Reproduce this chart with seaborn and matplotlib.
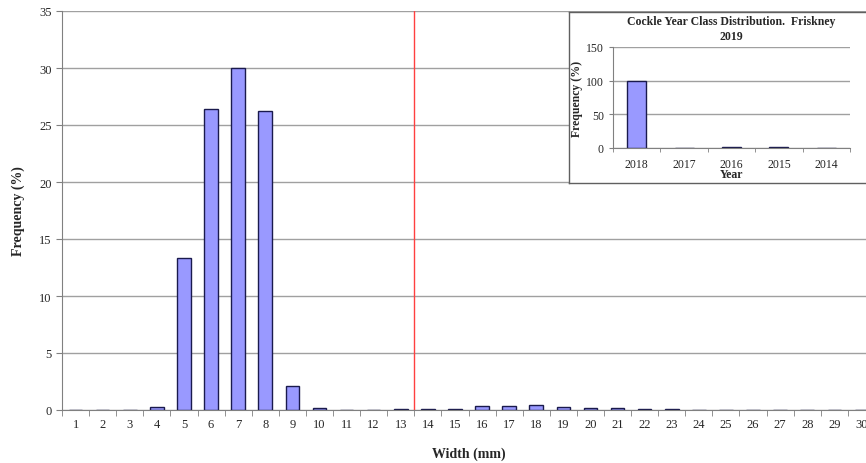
import numpy as np
import matplotlib
matplotlib.use('Agg')
import matplotlib.pyplot as plt
import seaborn as sns

sns.set_style("white")
plt.rcParams['font.family'] = ['Liberation Serif', 'DejaVu Serif']

# main histogram: shell width classes (mm) and frequency (%)
widths = [str(w) for w in range(1, 31)]
freq = [0, 0, 0, 0.3, 13.3, 26.4, 30.0, 26.2, 2.1, 0.15,
        0, 0, 0.1, 0.1, 0.1, 0.35, 0.35, 0.45, 0.3, 0.15,
        0.2, 0.1, 0.1, 0, 0, 0, 0, 0, 0, 0]

# inset: year class distribution
years = ['2018', '2017', '2016', '2015', '2014']
year_freq = [99.5, 0, 1.0, 1.0, 0]

bar_col = '#9999ff'
edge_col = '#1a1a4d'
grid_col = '#a0a0a0'

fig = plt.figure(figsize=(8.66, 4.64), dpi=100)
ax = fig.add_axes([62/866, 1-411/464, 813/866, (411-12)/464])

sns.barplot(x=widths, y=freq, order=widths, color=bar_col, width=0.5,
            edgecolor=edge_col, linewidth=1.0, saturation=1, ax=ax)
ax.set_xlim(-0.5, 29.5)
ax.set_ylim(0, 35)
ax.set_yticks(np.arange(0, 36, 5))
ax.yaxis.grid(True, color=grid_col, linewidth=1)
ax.set_axisbelow(True)
for s in ['top', 'right']:
    ax.spines[s].set_visible(False)
for s in ['left', 'bottom']:
    ax.spines[s].set_color('#808080')
ax.axvline(12.5, color='#ff4040', linewidth=1)
ax.tick_params(axis='x', length=0, labelsize=9, pad=6)
ax.tick_params(axis='y', length=4, labelsize=9, color='#808080', left=True)
ax.set_xticks(np.arange(-0.5, 29.5, 1), minor=True)
ax.tick_params(axis='x', which='minor', length=4, color='#808080', bottom=True)
ax.set_xlabel('Width (mm)', fontsize=10, fontweight='bold', labelpad=12)
ax.set_ylabel('Frequency (%)', fontsize=10, fontweight='bold', labelpad=10)

# inset frame
box = fig.add_axes([569/866, 1-184/464, 310/866, (184-13)/464])
box.set_xticks([])
box.set_yticks([])
box.set_facecolor('white')
for s in box.spines.values():
    s.set_color('#606060')
    s.set_linewidth(1)

ins = fig.add_axes([613/866, 1-149/464, (850-613)/866, (149-48)/464])
sns.barplot(x=years, y=year_freq, order=years, color=bar_col, width=0.4,
            edgecolor=edge_col, linewidth=1.0, saturation=1, ax=ins)
ins.set_xlim(-0.5, 4.5)
ins.set_ylim(0, 150)
ins.set_yticks([0, 50, 100, 150])
ins.yaxis.grid(True, color=grid_col, linewidth=1)
ins.set_axisbelow(True)
for s in ['top', 'right']:
    ins.spines[s].set_visible(False)
for s in ['left', 'bottom']:
    ins.spines[s].set_color('#808080')
ins.tick_params(axis='x', length=0, labelsize=8.5, pad=7)
ins.tick_params(axis='y', length=3, labelsize=8.5, color='#808080', left=True)
ins.set_xticks(np.arange(-0.5, 5, 1), minor=True)
ins.tick_params(axis='x', which='minor', length=3, color='#808080', bottom=True)
ins.set_xlabel('Year', fontsize=8.5, fontweight='bold', labelpad=-1)
ins.set_ylabel('Frequency (%)', fontsize=8.5, fontweight='bold', labelpad=2)
ins.set_title('Cockle Year Class Distribution.  Friskney\n2019',
              fontsize=8.5, fontweight='bold', pad=6, linespacing=1.3)

fig.savefig('out.png', dpi=100)
